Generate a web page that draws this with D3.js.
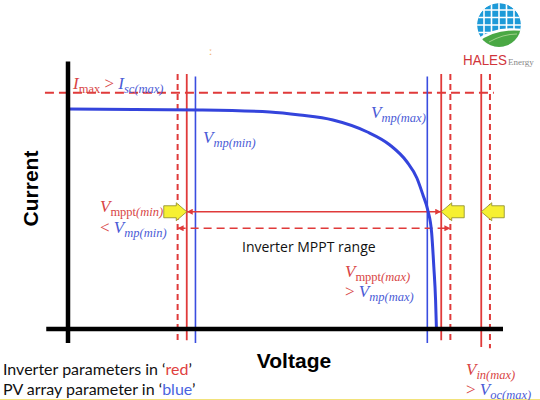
<!DOCTYPE html>
<html>
<head>
<meta charset="utf-8">
<script src="https://cdn.jsdelivr.net/npm/d3@7"></script>
<style>
  html,body{margin:0;padding:0;background:#fff;}
  svg{display:block;}
</style>
</head>
<body>
<script>
// ---------- data ----------
// PV I-V curve: voltage (0..100 units) and current (0..10 units)
const curveV = [0, 30.3, 46.4, 53.3, 60.9, 68.7, 74.0, 77.9, 80.2, 81.6, 82.7, 83.6, 84.1, 84.5, 84.7];
const curveI = [8.8, 8.76, 8.68, 8.56, 8.36, 7.89, 7.36, 6.69, 6.04, 5.36, 4.76, 3.84, 2.48, 1.16, 0];
// Inverter (red) voltage limits: Vmppt(min), Vmppt(max), Vin(max)
const inverterNames = ["Vmppt(min)", "Vmppt(max)", "Vin(max)"];
const inverterSolidV = [27.3, 85.8, 95.0];
const inverterDashedV = [25.2, 87.9, 97.0];
// PV array (blue) voltage: Vmp(min), Vmp(max)
const pvNames = ["Vmp(min)", "Vmp(max)"];
const pvV = [29.3, 82.6];
// Currents
const iMaxLevel = 9.45;
const mpptSolidI = 4.69;
const mpptDashedI = 4.03;
const legendLines = [["Inverter parameters in ‘", "red", "’"], ["PV array parameter in ‘", "blue", "’"]];

// ---------- drawing ----------
const W = 540, H = 400;
const RED = "#e03a3a", RED_T = "#d84545", BLUE = "#3a4de0", BLUE_T = "#4b5bd6";
const svg = d3.select("body").append("svg").attr("width", W).attr("height", H);
const x = d3.scaleLinear().domain([0, 100]).range([68, 503]);
const y = d3.scaleLinear().domain([0, 10]).range([329, 79]);

const defs = svg.append("defs");
function marker(id, orient) {
  defs.append("marker").attr("id", id).attr("viewBox", "0 0 10 10")
    .attr("refX", 10).attr("refY", 5).attr("markerWidth", 6).attr("markerHeight", 6)
    .attr("markerUnits", "userSpaceOnUse").attr("orient", orient)
    .append("path").attr("d", "M0,0 L10,5 L0,10 Z").attr("fill", RED);
}
marker("arr", "auto-start-reverse");

// bottom yellow rule
svg.append("line").attr("x1", 0).attr("x2", W).attr("y1", 399.5).attr("y2", 399.5)
  .attr("stroke", "#f2e27a").attr("stroke-width", 1);

// small orange artefact
svg.append("text").attr("x", 209).attr("y", 55).attr("font-size", 11).attr("fill", "#f2b77a")
  .attr("font-family", "DejaVu Sans").text("ː");

// Imax dashed line
svg.append("line").attr("x1", x(-5.3)).attr("x2", x(97.9))
  .attr("y1", y(iMaxLevel)).attr("y2", y(iMaxLevel))
  .attr("stroke", RED).attr("stroke-width", 2).attr("stroke-dasharray", "9,5");

// vertical inverter lines
inverterDashedV.forEach((v, i) => {
  svg.append("line").attr("x1", x(v)).attr("x2", x(v)).attr("y1", y(10.2)).attr("y2", y(i === 2 ? -0.77 : -0.55))
    .attr("stroke", RED).attr("stroke-width", 2).attr("stroke-dasharray", "6,4");
});
inverterSolidV.forEach((v, i) => {
  svg.append("line").attr("x1", x(v)).attr("x2", x(v)).attr("y1", y(10.2)).attr("y2", y(i === 2 ? -0.72 : -0.45))
    .attr("stroke", RED).attr("stroke-width", 1.8);
});
pvV.forEach(v => {
  svg.append("line").attr("x1", x(v)).attr("x2", x(v)).attr("y1", y(10.1)).attr("y2", y(-0.56))
    .attr("stroke", BLUE).attr("stroke-width", 1.6);
});

// MPPT range arrows
svg.append("line").attr("x1", x(inverterSolidV[0])).attr("x2", x(inverterSolidV[1]))
  .attr("y1", y(mpptSolidI)).attr("y2", y(mpptSolidI))
  .attr("stroke", RED).attr("stroke-width", 1.6)
  .attr("marker-start", "url(#arr)").attr("marker-end", "url(#arr)");
svg.append("line").attr("x1", x(inverterDashedV[0])).attr("x2", x(inverterDashedV[1]))
  .attr("y1", y(mpptDashedI)).attr("y2", y(mpptDashedI))
  .attr("stroke", RED).attr("stroke-width", 1.6).attr("stroke-dasharray", "8,5")
  .attr("marker-start", "url(#arr)").attr("marker-end", "url(#arr)");

// PV curve
const line = d3.line().x(d => x(d[0])).y(d => y(d[1])).curve(d3.curveMonotoneX);
svg.append("path").datum(d3.zip(curveV, curveI)).attr("d", line)
  .attr("fill", "none").attr("stroke", "#3444dc").attr("stroke-width", 3);

// axes
svg.append("line").attr("x1", x(0)).attr("x2", x(0)).attr("y1", y(10.7)).attr("y2", y(-0.56))
  .attr("stroke", "#000").attr("stroke-width", 4.5);
svg.append("line").attr("x1", x(-5)).attr("x2", x(100)).attr("y1", y(0)).attr("y2", y(0))
  .attr("stroke", "#000").attr("stroke-width", 4.5);

// yellow block arrows
function blockArrow(tipX, cy, dir) {
  // dir = +1 points right, -1 points left
  const hl = 10.5, bl = 12.5, hh = 9, bh = 6;
  const p = [
    [0, 0], [-hl, -hh], [-hl, -bh], [-hl - bl, -bh], [-hl - bl, bh], [-hl, bh], [-hl, hh]
  ].map(([a, b]) => [tipX + dir * a, cy + b]);
  svg.append("path").attr("d", "M" + p.map(q => q.join(",")).join("L") + "Z")
    .attr("fill", "#f6f032").attr("stroke", "#8a8a2a").attr("stroke-width", 0.8);
}

// math label helper
function mathText(xp, yp, parts) {
  const t = svg.append("text").attr("x", xp).attr("y", yp)
    .attr("font-family", "'Liberation Serif', 'Times New Roman', serif");
  let shift = 0;
  parts.forEach(p => {
    const s = t.append("tspan").text(p.t).attr("fill", p.c)
      .attr("font-size", p.sub ? 12.5 : 17)
      .attr("font-style", p.it ? "italic" : "normal");
    const target = p.sub ? 3.5 : 0;
    if (target !== shift) { s.attr("dy", target - shift); shift = target; }
  });
  return t;
}

mathText(73, 89, [
  {t: "I", c: RED_T, it: true}, {t: "max", c: RED_T, sub: true},
  {t: " > ", c: RED_T}, {t: "I", c: BLUE_T, it: true}, {t: "sc(max)", c: BLUE_T, it: true, sub: true}
]);
mathText(203, 143, [{t: "V", c: BLUE_T, it: true}, {t: "mp(min)", c: BLUE_T, it: true, sub: true}]);
mathText(371, 118, [{t: "V", c: BLUE_T, it: true}, {t: "mp(max)", c: BLUE_T, it: true, sub: true}]);
mathText(100, 212, [{t: "V", c: RED_T, it: true}, {t: "mppt", c: RED_T, sub: true}, {t: "(min)", c: RED_T, it: true, sub: true}]);
mathText(100, 233, [{t: "< ", c: RED_T}, {t: "V", c: BLUE_T, it: true}, {t: "mp(min)", c: BLUE_T, it: true, sub: true}]);
mathText(345, 277, [{t: "V", c: RED_T, it: true}, {t: "mppt", c: RED_T, sub: true}, {t: "(max)", c: RED_T, it: true, sub: true}]);
mathText(345, 297, [{t: "> ", c: RED_T}, {t: "V", c: BLUE_T, it: true}, {t: "mp(max)", c: BLUE_T, it: true, sub: true}]);
mathText(466, 375, [{t: "V", c: RED_T, it: true}, {t: "in(max)", c: RED_T, it: true, sub: true}]);
mathText(466, 395, [{t: "> ", c: RED_T}, {t: "V", c: BLUE_T, it: true}, {t: "oc(max)", c: BLUE_T, it: true, sub: true}]);

// arrows drawn over labels
blockArrow(x(inverterSolidV[0]), y(mpptSolidI), 1);
blockArrow(x(inverterSolidV[1]), y(mpptSolidI), -1);
blockArrow(x(inverterSolidV[2]), y(mpptSolidI), -1);

// MPPT range label
svg.append("text").attr("x", 242).attr("y", 252).attr("font-family", "'Open Sans', sans-serif")
  .attr("font-size", 14).attr("fill", "#111").text("Inverter MPPT range");

// axis titles
svg.append("text").attr("x", 294).attr("y", 368).attr("text-anchor", "middle")
  .attr("font-family", "'Liberation Sans', Arial, sans-serif").attr("font-weight", "bold")
  .attr("font-size", 21).text("Voltage");
svg.append("text").attr("transform", "translate(38,188.5) rotate(-90)").attr("text-anchor", "middle")
  .attr("font-family", "'Liberation Sans', Arial, sans-serif").attr("font-weight", "bold")
  .attr("font-size", 21).text("Current");

// legend lines
legendLines.forEach((parts, i) => {
  const t = svg.append("text").attr("x", 3).attr("y", 375 + i * 20)
    .attr("font-family", "Lato, 'Open Sans', sans-serif").attr("font-size", 16).attr("fill", "#111");
  t.append("tspan").text(parts[0]);
  t.append("tspan").text(parts[1]).attr("fill", i === 0 ? "#e04040" : "#4a64e0");
  t.append("tspan").text(parts[2]);
});

// logo
const logo = svg.append("g").attr("transform", "translate(499,25)");
defs.append("clipPath").attr("id", "lc").append("circle").attr("r", 22);
const lg = logo.append("g").attr("clip-path", "url(#lc)");
lg.append("circle").attr("r", 22).attr("fill", "#1d9ad8");
[-15, -7.5, 0, 7.5, 15].forEach(o => {
  lg.append("line").attr("x1", o).attr("x2", o).attr("y1", -22).attr("y2", 22).attr("stroke", "#fff").attr("stroke-width", 1.6);
});
[-15, -7.5, 0, 7.5].forEach(o => {
  lg.append("line").attr("y1", o).attr("y2", o).attr("x1", -22).attr("x2", 22).attr("stroke", "#fff").attr("stroke-width", 1.6);
});
lg.append("path").attr("d", "M-24,16 Q-6,0 24,4 L24,24 L-24,24 Z").attr("fill", "#fff");
lg.append("path").attr("d", "M-22,18 Q-4,3 24,6 L24,24 L-22,24 Z").attr("fill", "#4aa844");
lg.append("path").attr("d", "M-10,17 Q4,9 18,9").attr("fill", "none").attr("stroke", "#9fd08a").attr("stroke-width", 1);
svg.append("text").attr("x", 463).attr("y", 65).attr("font-family", "'Liberation Sans', sans-serif")
  .attr("font-size", 14).attr("fill", "#d1343b").attr("textLength", 44).attr("lengthAdjust", "spacingAndGlyphs").text("HALES");
svg.append("text").attr("x", 508).attr("y", 65).attr("font-family", "'Liberation Serif', serif")
  .attr("font-size", 9).attr("fill", "#888").text("Energy");
</script>
</body>
</html>
